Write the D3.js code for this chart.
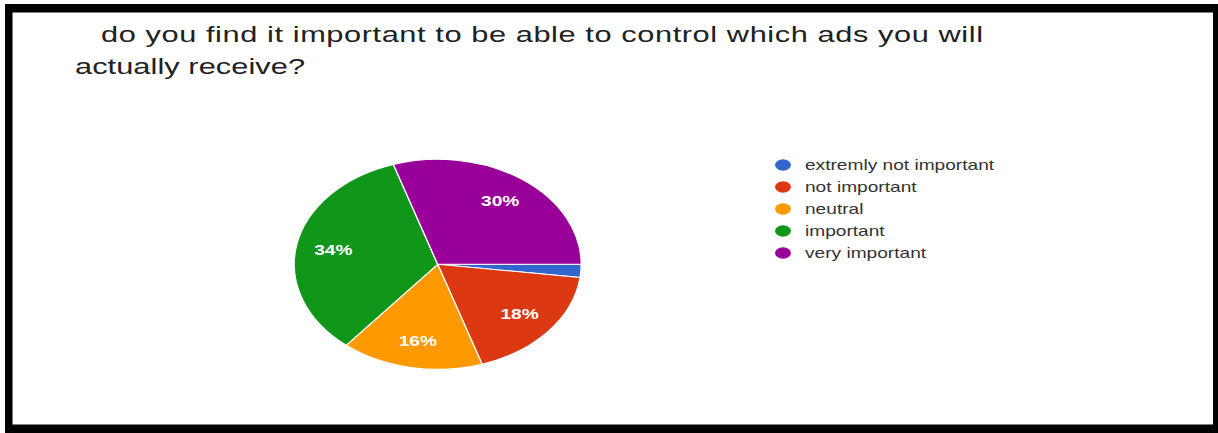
<!DOCTYPE html>
<html>
<head>
<meta charset="utf-8">
<script src="https://cdn.jsdelivr.net/npm/d3@7"></script>
<style>
  html, body { margin: 0; padding: 0; background: #fff; }
  svg { display: block; }
  text { font-family: "Liberation Sans", Arial, sans-serif; }
</style>
</head>
<body>
<svg id="chart" width="1218" height="433"></svg>
<script>
// survey answers (response counts)
var categories = ["extremly not important", "not important", "neutral", "important", "very important"];
var counts = [1, 9, 8, 17, 15];
var colors = ["#3366cc", "#dc3912", "#ff9900", "#109618", "#990099"];
var titleLines = ["do you find it important to be able to control which ads you will", "actually receive?"];

// the screenshot is stretched sideways, so draw everything in a squeezed group
var sx = 1.367;

var svg = d3.select("#chart");

// black frame
svg.append("rect")
    .attr("x", 5).attr("y", 4)
    .attr("width", 1213).attr("height", 429)
    .attr("fill", "#000");
svg.append("rect")
    .attr("x", 12.5).attr("y", 12.5)
    .attr("width", 1200.5).attr("height", 412)
    .attr("fill", "#fff");

var g = svg.append("g").attr("transform", "scale(" + sx + ",1)");

// Title

var titleStart = [101, 75], titleWidth = [882, 230];

g.selectAll(".title")
    .data(titleLines)
    .enter().append("text")
    .attr("class", "title")
    .attr("x", function(d, i) { return titleStart[i] / sx; })
    .attr("y", function(d, i) { return 42.3 + i * 32; })
    .attr("font-size", "22.5px")
    .attr("fill", "#212121")
    .attr("textLength", function(d, i) { return titleWidth[i] / sx; })
    .attr("lengthAdjust", "spacing")
    .text(function(d) { return d; });

// Pie

var cx = 437.7 / sx, cy = 264.3, r = 105;

var pie = d3.pie()
    .sort(null)
    .startAngle(Math.PI / 2)
    .endAngle(Math.PI / 2 + 2 * Math.PI);

var arcs = pie(counts);
var total = d3.sum(counts);

var arc = d3.arc().innerRadius(0).outerRadius(r);
var labelArc = d3.arc().innerRadius(r * 0.74).outerRadius(r * 0.74);

var pieG = g.append("g")
    .attr("transform", "translate(" + cx + "," + cy + ")");

pieG.selectAll("path")
    .data(arcs)
    .enter().append("path")
    .attr("d", arc)
    .attr("fill", function(d, i) { return colors[i]; })
    .attr("stroke", "#fff")
    .attr("stroke-width", 1);

pieG.selectAll(".label")
    .data(arcs.filter(function(d) { return d.value / total > 0.05; }))
    .enter().append("text")
    .attr("class", "label")
    .attr("transform", function(d) { return "translate(" + labelArc.centroid(d) + ")"; })
    .attr("text-anchor", "middle")
    .attr("dy", "0.36em")
    .attr("font-size", "14px")
    .attr("font-weight", "bold")
    .attr("fill", "#fff")
    .text(function(d) { return Math.round(d.value / total * 100) + "%"; });

// Legend

var legend = g.append("g")
    .attr("transform", "translate(" + (783 / sx) + ",165)");

var items = legend.selectAll(".item")
    .data(categories)
    .enter().append("g")
    .attr("class", "item")
    .attr("transform", function(d, i) { return "translate(0," + (i * 22) + ")"; });

items.append("circle")
    .attr("r", 5.8)
    .attr("fill", function(d, i) { return colors[i]; });

items.append("text")
    .attr("x", (805 - 783) / sx)
    .attr("dy", "0.36em")
    .attr("font-size", "14px")
    .attr("fill", "#333")
    .text(function(d) { return d; });
</script>
</body>
</html>
